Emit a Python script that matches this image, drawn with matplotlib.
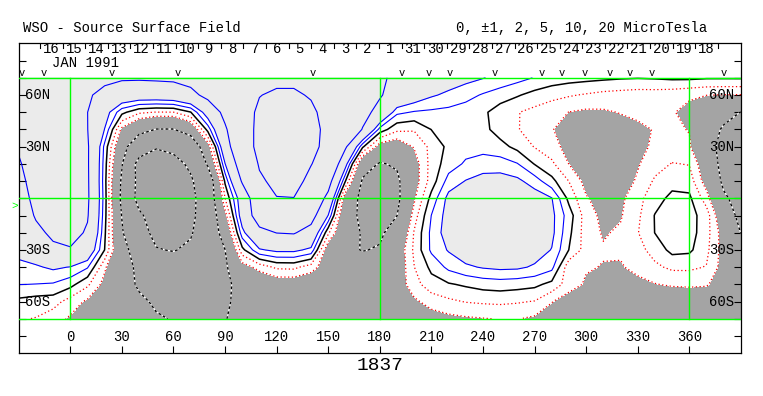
import numpy as np
import matplotlib.pyplot as plt

# --- Source surface field (microTesla), 10 deg grid ---
lons = np.arange(-30, 391, 10)
lats = np.arange(70, -71, -10)

b_70n = [6, 6.5, 7, 7, 6.5, 5.6, 5.3, 5.3, 5.4, 5.5, 6, 6.8, 7.5, 8.2, 8.8, 9.2, 9.2, 8.8, 8, 7, 6, 5.3,
         4.6, 3.9, 3.2, 2.7, 2.35, 2.05, 1.7, 1.35, 0.95, 0.6, 0.4, 0.3, 0.2, 0.1, 0.05, 0.1, 0.2, 0.2, 0.1, 0.1, 0.1]
b_60n = [6.5, 7, 7.5, 7.5, 5.3, 4.3, 3.5, 3.2, 3.2, 3.4, 4.2, 5.8, 7.5, 9, 9.9, 10.5, 10.5, 9.7, 8.5, 7.5, 6.3, 5.2,
         4.0, 2.9, 2.15, 1.75, 1.35, 0.9, 0.5, 0.1, -0.35, -0.7, -0.9, -1.1, -1.3, -1.4, -1.5, -1.5, -1.6, -1.8, -1.98, -2.05, -2.05]
b_50n = [6.5, 7, 7.5, 7, 5.02, 2.7, 0.3, -0.8, -1.05, -1.02, -0.05, 2.9, 5.8, 8.5, 10.6, 11.5, 11.5, 10.7, 8.7, 7.0, 5.7, 4.3,
         1.25, 0.9, 0.8, 0.7, 0.5, 0.2, -0.5, -0.95, -1.3, -1.6, -2.02, -2.2, -2.15, -1.95, -1.8, -1.8, -1.9, -2.4, -3.3, -4.2, -5.05]
b_40n = [6, 7, 7.6, 7.2, 5.05, 1.95, -2.3, -4.0, -5.1, -5.1, -3.6, 0.4, 4.6, 8, 11, 12.5, 12.5, 11.2, 9, 7, 4.9, 0.6,
         -0.75, -0.9, 0.02, 0.5, 0.6, 0.3, -0.45, -0.95, -1.35, -1.95, -2.4, -2.6, -2.6, -2.45, -2.2, -1.95, -1.8, -2.05, -3.8, -5.3, -5.8]
b_30n = [5.3, 6.8, 7.5, 7.5, 5.3, 0.7, -3.8, -7.5, -9.7, -9.0, -7.5, -2.8, 3.6, 8, 11, 12.2, 12.3, 10.9, 9, 5.4, 0.2, -2.7,
         -3.0, -1.9, -0.7, 0.25, 0.6, 0.6, 0.35, -0.3, -1.05, -1.6, -2.4, -2.8, -2.9, -2.6, -2.25, -1.85, -1.65, -1.85, -3.8, -6, -6.5]
b_20n = [4.7, 6.5, 7.3, 7.2, 5.3, 0.5, -4.8, -11.5, -12, -11.3, -9.3, -4.6, 1.95, 6.8, 10.3, 11.8, 11.6, 10.1, 8.5, 2.6, -3.8, -5.2,
         -4.7, -2.6, -0.6, 0.5, 1.15, 1.5, 1.45, 1.05, -0.05, -0.8, -2.02, -2.8, -3.1, -2.8, -2.1, -1.4, -0.95, -1.05, -3.0, -6.0, -7.0]
b_10n = [4.3, 6.0, 7.0, 7.0, 5.35, 0.4, -5.4, -11.2, -12.8, -12.5, -10.5, -7.3, 0.2, 5.3, 9.5, 10.8, 11, 9.2, 6.2, 0.02, -5.3, -6.5,
         -5.5, -2.6, -0.55, 1.4, 2.05, 2.4, 2.5, 2.25, 1.5, 0.3, -1.02, -2.4, -3.1, -2.6, -1.85, -0.85, -0.4, -0.45, -2.6, -5.5, -7.0]
b_eq = [4.0, 5.6, 6.6, 6.7, 5.4, 0.5, -5.6, -11.4, -13, -13, -11.2, -7.3, -1.02, 3.1, 7.3, 9.9, 9.95, 7.6, 4.2, -3.0, -5.8, -6.6,
        -5.6, -2.2, 0.35, 2.35, 2.9, 3.2, 3.3, 3.1, 2.6, 2.05, -0.3, -1.9, -2.5, -2.25, -1.3, -0.45, 0.3, 0.2, -1.5, -4.6, -6.0]
b_10s = [3.6, 5.2, 6.0, 6.2, 5.2, 0.4, -5.1, -9.3, -12, -12.5, -11, -7.5, -2.5, 2.9, 6.6, 8.2, 8.0, 6.2, 1.95, -4.0, -5.5, -6.2,
         -5.02, -1.5, 1.02, 2.5, 3.2, 3.5, 3.6, 3.4, 2.9, 2.3, 0.5, -1.5, -2.3, -2.1, -1.2, 0.05, 0.45, 0.4, -0.5, -3.3, -5.8]
b_20s = [3.2, 4.5, 5.4, 5.9, 4.7, 0.2, -4.7, -8.5, -11, -11.6, -10.4, -7.2, -3.8, 1.6, 4.2, 5.05, 5.2, 3.9, -0.8, -3.8, -5.2, -5.4,
         -3.9, -0.9, 1.25, 2.6, 3.3, 3.6, 3.7, 3.5, 3.0, 2.3, 0.25, -1.5, -2.1, -1.85, -1.05, 0.02, 0.5, 0.45, -0.6, -2.6, -5.05]
b_30s = [2.5, 2.9, 4.6, 4.8, 3.4, -0.02, -4.0, -6.5, -9.8, -10.2, -9.3, -7.2, -5.02, -0.3, 1.85, 2.3, 2.3, 1.7, -3.0, -4.5, -5.1, -4.8,
         -3.0, -0.8, 1.2, 2.1, 2.8, 3.1, 3.2, 3.0, 2.6, 1.95, -0.02, -1.45, -1.9, -1.85, -1.35, -0.6, 0.3, 0.2, -0.75, -2.5, -4.0]
b_40s = [1.6, 1.85, 2.2, 1.95, 1.1, -1.8, -4.0, -5.5, -7.2, -8.0, -7.5, -6.5, -5.4, -2.6, -1.6, -0.8, -0.75, -1.5, -2.8, -3.4, -3.8, -3.9,
         -3.0, -1.02, 0.25, 1.25, 1.8, 2.1, 2.25, 2.2, 1.85, 1.3, -1.7, -1.9, -2.05, -2.1, -1.7, -1.2, -0.8, -0.8, -1.05, -2.5, -3.2]
b_50s = [1.02, 0.98, 0.9, 0.35, -0.8, -2.4, -4.0, -5.3, -6.5, -7.0, -7.0, -6.5, -5.5, -4.2, -3.3, -2.9, -2.9, -3.1, -3.4, -3.6, -3.8, -3.7,
         -2.7, -1.4, -0.4, -0.1, 0.15, 0.4, 0.5, 0.4, 0.25, -0.3, -1.5, -2.15, -2.6, -2.6, -2.3, -2.05, -1.85, -1.8, -1.9, -2.6, -3.0]
b_60s = [-0.25, -0.45, -0.55, -1.45, -2.2, -3.2, -3.9, -4.6, -5.3, -5.7, -5.8, -5.6, -5.2, -4.6, -4.0, -3.6, -3.5, -3.5, -3.6, -3.7, -3.7, -3.5,
         -2.9, -2.2, -1.6, -1.2, -0.95, -0.85, -0.8, -0.9, -1.05, -1.95, -2.6, -2.9, -3.0, -3.1, -3.2, -3.2, -3.1, -3.0, -2.8, -2.8, -2.9]
b_70s = [-0.9, -1.05, -1.6, -2.15, -2.7, -3.3, -3.8, -4.3, -4.8, -5.1, -5.4, -5.3, -5.05, -4.6, -4.2, -3.9, -3.8, -3.7, -3.7, -3.7, -3.6, -3.5,
         -3.2, -2.8, -2.5, -2.3, -2.15, -2.05, -1.95, -1.95, -2.2, -2.6, -3.0, -3.2, -3.3, -3.4, -3.4, -3.4, -3.3, -3.2, -3.1, -3.0, -3.0]

field = np.array([b_70n, b_60n, b_50n, b_40n, b_30n, b_20n, b_10n, b_eq,
                  b_10s, b_20s, b_30s, b_40s, b_50s, b_60s, b_70s])

# --- annotations ---
lon_ticks = np.arange(0, 361, 30)
lat_labels = {60: '60N', 30: '30N', -30: '30S', -60: '60S'}
day_labels = ['16', '15', '14', '13', '12', '11', '10', '9', '8', '7', '6', '5', '4', '3', '2', '1',
              '31', '30', '29', '28', '27', '26', '25', '24', '23', '22', '21', '20', '19', '18']
day_edge0 = -17.6          # longitude of the first day boundary
deg_per_day = 13.14
obs_lons = [-28.3, -15.7, 24.1, 62.8, 141.3, 192.7, 208.2, 220.8, 247.0, 274.2,
            285.8, 299.3, 313.9, 325.5, 338.1, 379.8]
b0_lat = -4.3
rotation = '1837'

plt.rcParams['font.family'] = ['Liberation Mono', 'DejaVu Sans Mono']
fs = 10

fig = plt.figure(figsize=(7.63, 3.96), dpi=100)
ax = fig.add_axes([18.7 / 763, 1 - 353.2 / 396, 722.2 / 763, 309.8 / 396])
ax.set_xlim(-30, 390)
ax.set_ylim(-90, 90)

# shading: dark grey below -2, light grey above +2
ax.contourf(lons, lats, field, levels=[-100, -2, 2, 100],
            colors=['#a4a4a4', 'white', '#ebebeb'])
ax.contour(lons, lats, field, levels=[1, 2, 5, 10], colors='#0000ff', linewidths=0.8)
ax.contour(lons, lats, field, levels=[0], colors='black', linewidths=1.1)
cs_neg = ax.contour(lons, lats, field, levels=[-2, -1], colors='red', linewidths=0.9)
cs_neg.set_linestyle((0, (1, 2)))
ax.contour(lons, lats, field, levels=[-10, -5], colors='white', linewidths=0.9)
cs_strong = ax.contour(lons, lats, field, levels=[-10, -5], colors='black', linewidths=0.9)
cs_strong.set_linestyle((0, (2, 2)))

# green reference lines
green = '#00ff00'
ax.plot([-30, 390], [0, 0], color=green, lw=1, zorder=5)
ax.plot([-30, 390], [70, 70], color=green, lw=1, zorder=5)
ax.plot([-30, 390], [-70, -70], color=green, lw=1, zorder=5)
for x in [0, 180, 360]:
    ax.plot([x, x], [-70, 70], color=green, lw=1, zorder=5)

# frame and ticks
for s in ax.spines.values():
    s.set_linewidth(0.9)
ax.set_yticks(np.arange(-80, 81, 10))
ax.set_xticks(lon_ticks)
ax.tick_params(axis='y', direction='in', length=5, width=0.8, left=True, right=True,
               labelleft=False, labelright=False)
ax.tick_params(axis='x', direction='in', length=5, width=0.8, bottom=True, top=False,
               labelbottom=False)

for lat, lab in lat_labels.items():
    ax.text(-26.5, lat, lab, ha='left', va='center', fontsize=fs, zorder=6)
    ax.text(386.3, lat, lab, ha='right', va='center', fontsize=fs, zorder=6)
for x in lon_ticks:
    ax.text(x, -80.8, str(x), ha='center', va='center', fontsize=fs)

# top strip: days of the rotation
for k in range(len(day_labels) + 1):
    x = day_edge0 + k * deg_per_day
    ax.plot([x, x], [87.3, 90], color='black', lw=0.8)
for k, lab in enumerate(day_labels):
    ax.text(day_edge0 + (k + 0.5) * deg_per_day, 86.9, lab, ha='center', va='center', fontsize=fs)
ax.text(-10.8, 78.7, 'JAN 1991', ha='left', va='center', fontsize=fs)
for x in obs_lons:
    ax.text(x, 72.6, 'v', ha='center', va='center', fontsize=7.5, zorder=6)

# earth latitude marker
ax.text(-30.4, b0_lat, '>', ha='right', va='center', fontsize=8, color=green, clip_on=False)

fig.text(23 / 763, 1 - 28 / 396, 'WSO - Source Surface Field', ha='left', va='center', fontsize=fs)
fig.text(456 / 763, 1 - 28 / 396, '0, \u00b11, 2, 5, 10, 20 MicroTesla', ha='left', va='center', fontsize=fs)
fig.text(380 / 763, 1 - 366 / 396, rotation, ha='center', va='center', fontsize=14)

fig.savefig('out.png', dpi=100)
